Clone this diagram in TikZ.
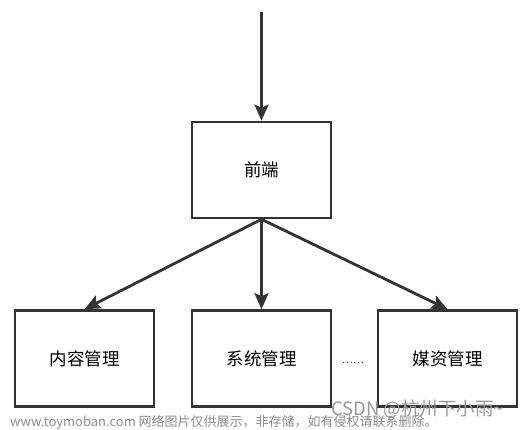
\documentclass[tikz,border=0pt]{standalone}
\usepackage{fontspec}
\newfontfamily\cjk{Noto Sans CJK SC}
\usetikzlibrary{arrows.meta}

\begin{document}
\begin{tikzpicture}[x=1pt, y=-1pt,
    box/.style={draw=black!80, line width=2.6pt, minimum width=139pt, minimum height=96pt, inner sep=0pt, font=\cjk\fontsize{17.5}{20}\selectfont},
    arr/.style={draw=black!80, line width=2.8pt, -{Stealth[length=16pt, width=14pt, inset=3pt]}}]
    \useasboundingbox (0,0) rectangle (530,430);

    \node[box] (fe) at (261.5, 170) {前端};
    \node[box] (cm) at (84.5, 358.5) {内容管理};
    \node[box] (sm) at (261.5, 358.5) {系统管理};
    \node[box] (mm) at (447.5, 358.5) {媒资管理};
    \coordinate (in) at (261.5, 12);

    \draw[arr] (in) -- (fe.north);
    \draw[arr] (fe.south) -- (cm.north);
    \draw[arr] (fe.south) -- (sm.north);
    \draw[arr] (fe.south) -- (mm.north);

    \node (dots) at (353, 363) {\fontsize{15}{17}\selectfont ......};

    % watermark
    \node[anchor=west, text=black!45, inner sep=0pt] (wm) at (10, 422) {\cjk\fontsize{13}{15}\selectfont www.toymoban.com 网络图片仅供展示，非存储，如有侵权请联系删除。};
    \node[anchor=west, text=black!40, inner sep=0pt] (csdn) at (331, 409) {\cjk\fontsize{18.5}{20}\selectfont CSDN @杭州下小雨\string~};
\end{tikzpicture}
\end{document}
